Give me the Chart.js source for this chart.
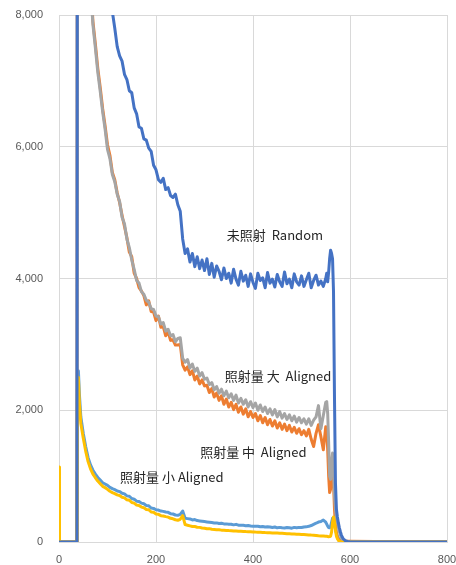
<!DOCTYPE html>
<html>
<head>
<meta charset="utf-8">
<script src="https://cdn.jsdelivr.net/npm/chart.js@4/dist/chart.umd.min.js"></script>
<style>
html,body{margin:0;padding:0;background:#fff;}
#wrap{width:456px;height:565px;}
</style>
</head>
<body>
<div id="wrap"><canvas id="c" width="456" height="565"></canvas></div>
<script>
// x positions shared by all series
const xs = [
  0,1,37,38,40,42,45,
  50,55,60,65,70,75,80,85,90,95,
  100,105,110,115,120,125,130,135,140,145,
  150,155,160,165,170,175,180,185,190,195,
  200,205,210,215,220,225,230,235,240,245,
  250,255,260,265,270,275,280,285,290,295,
  300,305,310,315,320,325,330,335,340,345,
  350,355,360,365,370,375,380,385,390,395,
  400,405,410,415,420,425,430,435,440,445,
  450,455,460,465,470,475,480,485,490,495,
  500,505,510,515,520,525,530,535,540,545,
  550,
  552,554,556,558,560,562,564,566,568,570,
  572,574,576,578,580,582,584,586,588,590,
  595,600,650,700,750,800
];

// 未照射 Random
const randomSeries = [
  0,0,0,14000,14000,14000,14000,
  14000,13500,13000,12500,12000,11500,11000,10500,10000,9500,
  9000,8500,8050,7800,7520,7380,7300,7100,7020,6850,
  6820,6590,6500,6300,6280,6120,6100,5980,5930,5720,
  5650,5500,5460,5520,5350,5380,5260,5230,5280,5120,
  5020,4600,4380,4450,4250,4380,4180,4330,4150,4280,
  4120,4300,4060,4230,4020,4190,4110,3980,4160,4000,
  4080,3930,4140,3990,3900,4110,3960,4050,3880,4070,
  3940,3850,4080,3970,4010,3860,4090,3930,3990,3870,
  4060,3950,3880,4100,3920,3990,3860,4070,3950,3900,
  4040,3880,3980,4080,3860,3970,4050,3900,3960,3880,
  4000,
  4080,3950,4100,4300,4430,4380,4300,3800,2200,900,
  500,380,290,220,160,110,75,50,35,22,
  8,0,0,0,0,0
];

// 照射量 大 Aligned
const highDose = [
  0,0,0,13000,13000,12500,12000,
  11000,10000,9200,8400,7850,7500,7130,6840,6530,6270,
  5960,5820,5580,5470,5280,5170,4930,4830,4600,4470,
  4280,4140,3970,3930,3800,3760,3670,3640,3540,3530,
  3430,3420,3310,3330,3200,3230,3130,3150,3040,3090,
  3100,2790,2730,2770,2640,2700,2590,2640,2520,2570,
  2470,2490,2390,2420,2310,2360,2260,2320,2220,2290,
  2190,2250,2150,2230,2110,2180,2090,2160,2050,2130,
  2040,2110,2000,2080,1980,2050,1950,2020,1930,2010,
  1900,1980,1880,1950,1860,1930,1840,1910,1820,1890,
  1810,1870,1790,1870,1770,1850,1900,2070,1720,1920,
  2120,
  2130,1950,1500,1000,950,1200,1350,1100,700,500,
  380,300,220,160,110,70,40,25,15,10,
  8,5,5,5,5,5
];

// 照射量 中 Aligned
const midDose = [
  0,0,0,13000,13000,12500,12000,
  11000,10000,9300,8500,7900,7560,7190,6900,6580,6320,
  6030,5870,5610,5500,5300,5150,4960,4790,4620,4400,
  4330,4080,4000,3860,3810,3740,3600,3660,3500,3490,
  3360,3430,3260,3270,3130,3190,3060,3070,2990,2990,
  3000,2690,2610,2660,2540,2600,2460,2520,2400,2460,
  2370,2380,2270,2330,2200,2260,2150,2220,2090,2170,
  2050,2120,2010,2090,1970,2050,1940,2020,1900,1980,
  1890,1950,1840,1920,1810,1890,1780,1860,1760,1840,
  1730,1810,1710,1790,1690,1770,1670,1740,1650,1720,
  1630,1690,1610,1710,1560,1450,1650,1780,1600,1400,
  1750,
  1700,1400,1000,750,800,1150,1250,900,500,250,
  130,70,40,25,15,10,10,10,10,10,
  10,10,8,8,8,8
];

// 照射量 小 (blue)
const lowDoseA = [
  0,0,0,2300,2600,2250,1900,
  1650,1450,1280,1170,1090,1030,980,940,900,880,
  860,830,810,795,775,765,740,730,700,695,
  660,650,620,615,590,580,555,550,515,510,
  490,485,470,465,455,450,430,425,410,405,
  420,470,360,355,350,335,340,325,320,315,
  310,305,300,295,290,290,280,285,275,275,
  270,270,260,268,255,255,255,248,250,243,
  240,238,240,232,235,228,230,228,220,228,
  215,222,215,212,220,217,210,222,215,222,
  220,228,230,238,250,268,285,303,310,333,
  300,
  270,240,220,215,240,300,360,340,270,200,
  140,90,60,40,25,15,10,5,0,0,
  0,0,0,0,0,0
];

// 照射量 小 Aligned (yellow)
const lowDoseB = [
  1140,0,0,2200,2500,2120,1800,
  1580,1380,1220,1110,1030,975,925,885,845,825,
  800,770,750,735,715,705,680,670,640,635,
  600,590,560,555,530,520,495,490,455,450,
  425,420,400,395,385,378,360,352,338,330,
  345,400,265,255,245,235,235,225,222,212,
  210,202,203,193,190,186,186,180,180,176,
  173,171,168,166,164,163,161,158,157,155,
  152,150,149,147,145,143,142,140,138,136,
  135,133,131,129,127,125,123,121,119,117,
  115,113,111,108,105,103,99,95,92,90,
  88,
  86,83,80,82,90,150,300,380,300,180,
  90,50,25,10,5,0,0,0,0,0,
  0,0,0,0,0,0
];

const xTicks = [0, 200, 400, 600, 800];
const yTicks = [0, 2000, 4000, 6000, 8000];

const seriesLabels = [
  { text: '未照射  Random', x: 346, y: 4663 },
  { text: '照射量 大  Aligned', x: 342, y: 2522 },
  { text: '照射量 中  Aligned', x: 291, y: 1367 },
  { text: '照射量 小 Aligned', x: 126, y: 987 }
];

const toPts = arr => xs.map((x, i) => ({ x: x, y: arr[i] }));

const labelPlugin = {
  id: 'seriesLabels',
  afterDatasetsDraw(chart) {
    const ctx = chart.ctx, sx = chart.scales.x, sy = chart.scales.y;
    ctx.save();
    ctx.font = '13px "Noto Sans CJK JP", "Noto Sans", sans-serif';
    ctx.fillStyle = '#262626';
    ctx.textAlign = 'left';
    ctx.textBaseline = 'middle';
    seriesLabels.forEach(l => ctx.fillText(l.text, sx.getPixelForValue(l.x), sy.getPixelForValue(l.y)));
    ctx.restore();
  }
};

const ds = (label, arr, color) => ({
  label: label, data: toPts(arr), borderColor: color, backgroundColor: color,
  borderWidth: 3, pointRadius: 0, tension: 0, fill: false, borderJoinStyle: 'round'
});

new Chart(document.getElementById('c'), {
  type: 'line',
  data: {
    datasets: [
      ds('未照射 Random', randomSeries, '#4472C4'),
      ds('照射量 小 Aligned', lowDoseB, '#FFC000'),
      ds('照射量 大 Aligned', highDose, '#A5A5A5'),
      ds('照射量 中 Aligned', midDose, '#ED7D31'),
      ds('照射量 小', lowDoseA, '#5B9BD5')
    ]
  },
  options: {
    responsive: false,
    animation: false,
    layout: { padding: { left: 0, right: 9, top: 15, bottom: 0 } },
    plugins: { legend: { display: false }, tooltip: { enabled: false } },
    scales: {
      x: {
        type: 'linear', min: 0, max: 800,
        afterBuildTicks: s => { s.ticks = xTicks.map(v => ({ value: v })); },
        afterFit: s => { s.height = 23; s.paddingLeft = 0; s.paddingRight = 0; },
        grid: { color: '#d9d9d9', lineWidth: 1, drawTicks: false },
        border: { color: '#d9d9d9' },
        ticks: { color: '#595959', font: { family: '"Liberation Sans", Arial, sans-serif', size: 11 }, padding: 11, maxRotation: 0 }
      },
      y: {
        type: 'linear', min: 0, max: 8000,
        afterBuildTicks: s => { s.ticks = yTicks.map(v => ({ value: v })); },
        afterFit: s => { s.width = 59; s.paddingTop = 0; s.paddingBottom = 0; },
        grid: { color: '#d9d9d9', lineWidth: 1, drawTicks: false },
        border: { color: '#d9d9d9' },
        ticks: { color: '#595959', font: { family: '"Liberation Sans", Arial, sans-serif', size: 11 }, padding: 16,
          callback: v => v.toLocaleString('en-US') }
      }
    }
  },
  plugins: [labelPlugin]
});
</script>
</body>
</html>
